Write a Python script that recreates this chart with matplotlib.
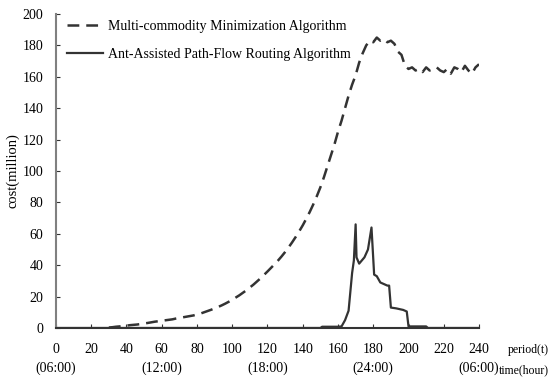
import matplotlib
matplotlib.use('Agg')
import matplotlib.pyplot as plt

plt.rcParams['font.family'] = ['Liberation Serif', 'DejaVu Serif']
plt.rcParams['lines.scale_dashes'] = False

# Multi-commodity Minimization Algorithm (dashed)
t_mcm = [30, 32, 34, 36, 38, 40, 42, 44, 46, 48, 50, 52, 54, 56, 58, 60,
         62, 64, 66, 68, 70, 72, 74, 76, 78, 80, 82, 84, 86, 88, 90, 92,
         94, 96, 98, 100, 102, 104, 106, 108, 110, 112, 114, 116, 118, 120,
         122, 124, 126, 128, 130, 132, 134, 136, 138, 140, 142, 144, 146,
         148, 150, 152, 154, 156, 158, 160, 162, 164, 166, 168, 170, 172,
         174, 176, 178, 180, 182, 184, 186, 188, 190, 192, 194, 196, 198,
         200, 202, 204, 206, 208, 210, 212, 214, 216, 218, 220, 222, 224,
         226, 228, 230, 232, 234, 236, 238, 240]
v_mcm = [0.3, 0.5, 0.8, 1.0, 1.3, 1.5, 1.8, 2.0, 2.2, 2.5, 2.9, 3.2, 3.6,
         4.0, 4.3, 4.6, 4.9, 5.2, 5.5, 6.0, 6.4, 6.8, 7.2, 7.6, 8.0, 8.6,
         9.2, 10.0, 10.8, 11.6, 12.5, 13.4, 14.4, 15.5, 16.7, 18.0, 19.4,
         20.8, 22.4, 24.0, 25.8, 27.6, 29.6, 31.6, 33.8, 36.0, 38.3, 40.6,
         43.0, 45.6, 48.4, 51.4, 54.6, 58.0, 61.6, 65.4, 69.6, 74.0, 78.8,
         84.0, 89.6, 96.0, 103, 110, 117, 125, 132, 140, 148, 155, 161,
         169, 175, 180, 183, 182, 185, 183, 184, 182, 183, 181, 176, 174,
         167, 165, 166, 164, 165, 163, 166, 164, 165, 166, 164, 163, 165,
         162, 166, 165, 163, 167, 164, 162, 166, 168]

# Ant-Assisted Path-Flow Routing Algorithm (solid)
t_aa = [0, 150, 151, 160, 162, 164, 166, 168, 169, 170, 170.5, 172, 175,
        177, 179, 180.5, 182, 184, 186, 188, 189, 190, 193, 197, 199, 200,
        201, 210, 211, 240]
v_aa = [0, 0, 0.8, 0.8, 1, 5, 11, 35, 43, 66, 45, 41, 45, 50, 64, 34, 33,
        29, 28, 27, 27, 13, 12.5, 11.5, 10.5, 1, 1, 1, 0, 0]

xticks = list(range(0, 241, 20))
hour_labels = {0: '(06:00)', 60: '(12:00)', 120: '(18:00)', 180: '(24:00)',
               240: '(06:00)'}

fig = plt.figure(figsize=(5.57, 3.78), dpi=100)
ax = fig.add_axes([0.1005, 0.1323, 0.7595, 0.8307])

ax.plot(t_mcm, v_mcm, color='#333333', lw=1.8, dashes=(8.5, 5),
        label='Multi-commodity Minimization Algorithm')
ax.plot(t_aa, v_aa, color='#333333', lw=1.6,
        label='Ant-Assisted Path-Flow Routing Algorithm')

ax.set_xlim(0, 240)
ax.set_ylim(0, 200)
ax.set_yticks(range(0, 201, 20))
ax.set_xticks(xticks)
labels = []
for t in xticks:
    if t in hour_labels:
        labels.append('%d\n%s' % (t, hour_labels[t]))
    else:
        labels.append('%d' % t)
ax.set_xticklabels(labels, linespacing=1.55)
ax.tick_params(axis='both', direction='in', length=3, labelsize=10,
               color='#333333')
ax.tick_params(axis='x', pad=11)
ax.tick_params(axis='y', pad=9)

for s in ['top', 'right']:
    ax.spines[s].set_visible(False)
ax.spines['left'].set_color('#808080')
ax.spines['left'].set_linewidth(1.5)
ax.spines['bottom'].set_color('#333333')
ax.spines['bottom'].set_linewidth(1.5)

ax.set_ylabel('cost(million)', fontsize=10.5, labelpad=2)

fig.text(0.985, 0.074, 'period(t)', fontsize=8.5, ha='right', va='center')
fig.text(0.985, 0.021, 'time(hour)', fontsize=8.5, ha='right', va='center')

ax.legend(loc='upper left', frameon=False, fontsize=10, handlelength=2.6,
          handletextpad=0.4, labelspacing=1.1, borderaxespad=0.0,
          bbox_to_anchor=(0.012, 1.0))

fig.savefig('out.png', dpi=100)
